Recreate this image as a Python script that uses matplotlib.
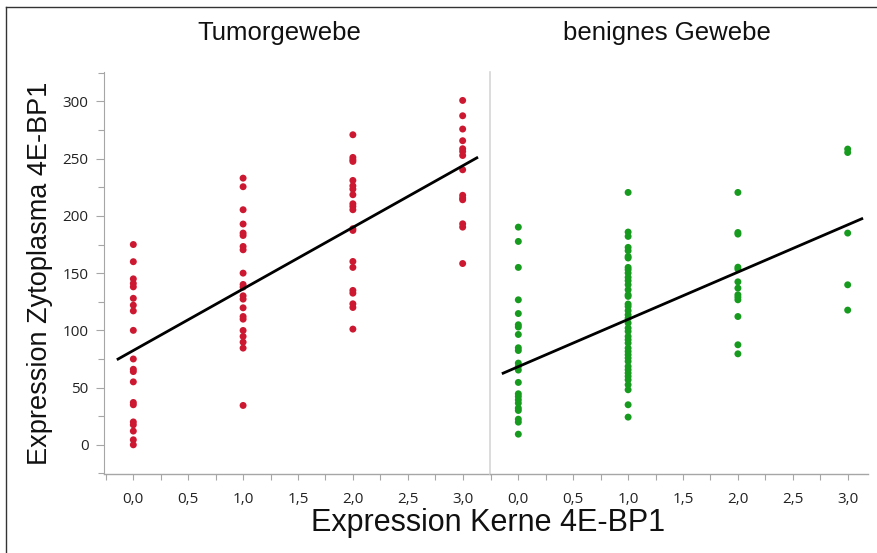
import numpy as np
import matplotlib
matplotlib.use("Agg")
import matplotlib.pyplot as plt
from matplotlib.ticker import MultipleLocator, FixedLocator, FixedFormatter
from matplotlib.lines import Line2D

# ---------------- data ----------------
panel_titles = ["Tumorgewebe", "benignes Gewebe"]
x_label = "Expression Kerne 4E-BP1"
y_label = "Expression Zytoplasma 4E-BP1"

x_tick_values = [0.0, 0.5, 1.0, 1.5, 2.0, 2.5, 3.0]
x_tick_labels = ["0,0", "0,5", "1,0", "1,5", "2,0", "2,5", "3,0"]
y_tick_values = [0, 50, 100, 150, 200, 250, 300]
y_tick_labels = ["0", "50", "100", "150", "200", "250", "300"]

tumor_x0 = [175, 160, 145, 141, 138, 128, 122, 117, 100, 75, 66, 64, 55, 37, 35, 20, 17.5, 12, 4.4, 0]
tumor_x1 = [233, 225.5, 205.4, 192.9, 185, 182.9, 173.3, 170.4, 150, 140.1, 137.8, 130.2, 127.3,
            119.7, 112.1, 109.8, 99.9, 94.7, 89.7, 84.5, 34.4]
tumor_x2 = [270.9, 251.1, 249.1, 247.6, 231, 226.3, 223.4, 218.5, 210.6, 208.3, 205.4, 188.8, 187.3,
            160.2, 155, 134.9, 132.5, 123.2, 120, 101.1]
tumor_x3 = [300.9, 287.5, 275.9, 265.7, 258.7, 256.3, 252.8, 240.3, 218, 215.6, 214.1, 193.1, 190.2, 158.4]

benign_x0 = [190.2, 177.7, 155, 126.7, 114.7, 104.9, 102.9, 96.4, 84.8, 82.4, 71.4, 68.5, 65.3, 54.5,
             44.6, 42.2, 39.3, 36.4, 32.1, 30, 22.4, 19.8, 9.3]
benign_x1 = [220.5, 185.9, 182.1, 172.5, 169.6, 164.6, 163.2, 155.0, 153.0, 150.1, 146.3, 143.4, 139.9,
             135.5, 131.1, 129.7, 123.0, 120.9, 117.2, 113.6, 110.7, 106.4, 102.0, 99.1, 94.7, 91.8,
             88.9, 84.5, 81.6, 78.7, 75.8, 72.9, 68.5, 65.6, 62.7, 59.8, 56.8, 52.5, 48.1, 35.0, 24.2]
benign_x2 = [220.5, 185.5, 184.1, 155.2, 153.5, 142.4, 136.9, 131.1, 129, 126.7, 112.1, 87.4, 79.5]
benign_x3 = [258.4, 255.4, 185, 139.8, 117.7]

tumor_groups = [(0, tumor_x0), (1, tumor_x1), (2, tumor_x2), (3, tumor_x3)]
benign_groups = [(0, benign_x0), (1, benign_x1), (2, benign_x2), (3, benign_x3)]

# regression lines: (intercept, slope)
tumor_fit = (82.4, 53.8)
benign_fit = (68.3, 41.3)

# ---------------- style / layout ----------------
W, H = 877, 553
red = "#cc1931"
green = "#179b1f"
axis_gray = "#a6a6a6"
divider_gray = "#d6d6d6"
tick_font = ["Open Sans", "DejaVu Sans"]
label_font = ["Liberation Sans", "DejaVu Sans"]
fit_x_span = (-0.15, 3.14)

fig = plt.figure(figsize=(W / 100, H / 100), dpi=100)
fig.patch.set_facecolor("white")

def px_rect(x0, y0, x1, y1):
    return [x0 / W, 1 - y1 / H, (x1 - x0) / W, (y1 - y0) / H]

ax_l = fig.add_axes(px_rect(104, 71.7, 490, 474))
ax_r = fig.add_axes(px_rect(490, 71.7, 868, 474))

ylim = (-25.5, 326)
xlims = [(-0.267, 3.249), (-0.258, 3.185)]
title_x_px = [279, 667]

panels = [(ax_l, tumor_groups, red, tumor_fit), (ax_r, benign_groups, green, benign_fit)]
for i, (ax, groups, col, fit) in enumerate(panels):
    xs = np.concatenate([np.full(len(v), g, dtype=float) for g, v in groups])
    ys = np.concatenate([np.asarray(v, dtype=float) for g, v in groups])
    ax.scatter(xs, ys, s=25, color=col, edgecolors="none", zorder=3)
    inter, slope = fit
    fx = np.array(fit_x_span)
    ax.plot(fx, inter + slope * fx, color="black", lw=2.0, zorder=4, solid_capstyle="butt")

    ax.set_xlim(*xlims[i])
    ax.set_ylim(*ylim)
    ax.set_facecolor("white")
    for s in ["top", "right"]:
        ax.spines[s].set_visible(False)
    ax.spines["bottom"].set_color(axis_gray)
    ax.spines["bottom"].set_linewidth(1.0)
    ax.xaxis.set_major_locator(FixedLocator(x_tick_values))
    ax.xaxis.set_major_formatter(FixedFormatter(x_tick_labels))
    ax.xaxis.set_minor_locator(MultipleLocator(0.25))
    ax.tick_params(axis="x", which="both", direction="out", length=4, width=0.8,
                   color=axis_gray, labelsize=11, pad=9, labelcolor="#222222")
    for lab in ax.get_xticklabels():
        lab.set_fontfamily(tick_font)
    fig.text(title_x_px[i] / W, 1 - 33 / H, panel_titles[i], ha="center",
             va="center", fontsize=18.5, family=label_font, color="#111111")

# left axis y ticks
ax_l.spines["left"].set_color(axis_gray)
ax_l.yaxis.set_major_locator(FixedLocator(y_tick_values))
ax_l.yaxis.set_major_formatter(FixedFormatter(y_tick_labels))
ax_l.yaxis.set_minor_locator(MultipleLocator(25))
ax_l.tick_params(axis="y", which="major", direction="out", length=6, width=0.8,
                 color=axis_gray, labelsize=11, pad=5, labelcolor="#222222")
ax_l.tick_params(axis="y", which="minor", direction="out", length=4, width=0.8, color=axis_gray)
for lab in ax_l.get_yticklabels():
    lab.set_fontfamily(tick_font)

# right axis: divider only
ax_r.spines["left"].set_color(divider_gray)
ax_r.spines["left"].set_linewidth(1.2)
ax_r.tick_params(axis="y", which="both", left=False, labelleft=False)

fig.text(488 / W, 1 - 523 / H, x_label, ha="center", va="center", fontsize=22,
         family=label_font, color="#111111")
fig.text(40 / W, 1 - 273 / H, y_label, ha="center", va="center", rotation=90,
         fontsize=19.5, family=label_font, color="#111111")

# outer frame
fig.add_artist(Line2D([6 / W, 6 / W], [0, 1 - 7 / H], color="#333333", lw=1.0,
                      transform=fig.transFigure))
fig.add_artist(Line2D([6 / W, 1], [1 - 7 / H, 1 - 7 / H], color="#333333", lw=1.0,
                      transform=fig.transFigure))

fig.savefig("out.png", dpi=100)
